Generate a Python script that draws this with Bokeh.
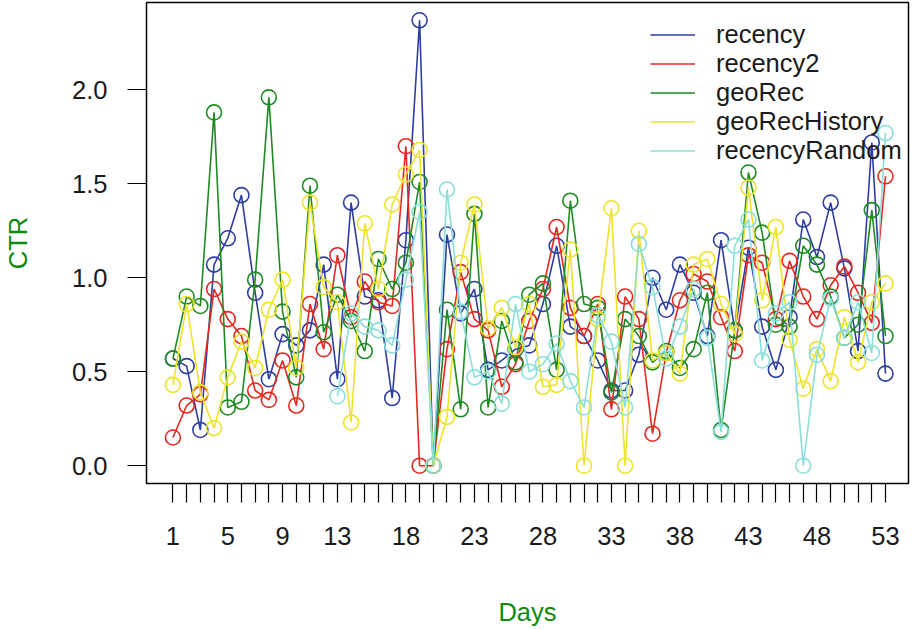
import numpy as np
from bokeh.plotting import figure
from bokeh.models import Range1d, FixedTicker, Legend, LegendItem, NumeralTickFormatter
from bokeh.embed import file_html
from bokeh.resources import INLINE

nan = float("nan")
days = list(range(1, 54))

recency = [0.57, 0.53, 0.19, 1.07, 1.21, 1.44, 0.92, 0.46, 0.70, 0.64,
           0.72, 1.07, 0.46, 1.40, 0.90, 0.88, 0.36, 1.20, 2.37, 0.00,
           1.23, 0.81, 0.94, 0.51, 0.56, 0.62, 0.64, 0.86, 1.17, 0.74,
           0.69, 0.56, 0.40, 0.40, 0.59, 1.00, 0.83, 1.07, 0.92, 0.69,
           1.20, 0.72, 1.16, 0.74, 0.51, 0.79, 1.31, 1.11, 1.40, 1.05,
           0.61, 1.72, 0.49]
recency2 = [0.15, 0.32, 0.38, 0.94, 0.78, 0.69, 0.40, 0.35, 0.56, 0.32,
            0.86, 0.62, 1.12, 0.79, 0.98, 0.87, 0.85, 1.70, 0.00, 0.00,
            0.62, 1.03, 0.78, 0.72, 0.42, 0.54, 0.77, 0.94, 1.27, 0.84,
            0.69, 0.86, 0.30, 0.90, 0.78, 0.17, 0.60, 0.88, 1.02, 0.98,
            0.79, 0.61, 1.12, 1.08, 0.78, 1.09, 0.90, 0.78, 0.96, 1.06,
            0.92, 0.76, 1.54]
geoRec = [0.57, 0.90, 0.85, 1.88, 0.31, 0.34, 0.99, 1.96, 0.82, 0.47,
          1.49, 0.71, 0.91, 0.77, 0.61, 1.10, 0.94, 1.08, 1.51, 0.00,
          0.83, 0.30, 1.34, 0.31, 0.77, 0.55, 0.91, 0.97, 0.51, 1.41,
          0.86, 0.84, 0.39, 0.78, 0.69, 0.55, 0.61, 0.52, 0.62, 0.92,
          0.19, 0.72, 1.56, 1.24, 0.75, 0.74, 1.17, 1.07, 0.90, 0.68,
          0.75, 1.36, 0.69]
geoRecHistory = [0.43, 0.86, 0.39, 0.20, 0.47, 0.66, 0.52, 0.83, 0.99, 0.52,
                 1.40, 0.95, 0.87, 0.23, 1.29, 0.94, 1.39, 1.55, 1.68, 0.00,
                 0.26, 1.08, 1.39, 0.73, 0.84, 0.63, 0.86, 0.42, 0.43, 1.15,
                 0.00, 0.78, 1.37, 0.00, 1.25, 0.56, 0.60, 0.49, 1.07, 1.10,
                 0.86, 0.70, 1.48, 0.88, 1.27, 0.67, 0.41, 0.62, 0.45, 0.79,
                 0.55, 0.87, 0.97]
recencyRandom = [nan] * 12 + [
                 0.37, 0.81, 0.74, 0.72, 0.64, 0.99, 1.35, 0.00,
                 1.47, 0.82, 0.47, 0.50, 0.33, 0.86, 0.50, 0.54, 0.65, 0.45,
                 0.31, 0.80, 0.66, 0.31, 1.18, 0.95, 0.57, 0.74, 0.94, 0.68,
                 0.18, 1.17, 1.31, 0.56, 0.81, 0.87, 0.00, 0.59, 0.89, 0.68,
                 0.87, 0.60, 1.77]

series_names = ["recency", "recency2", "geoRec", "geoRecHistory", "recencyRandom"]
series_values = [recency, recency2, geoRec, geoRecHistory, recencyRandom]
series_colors = ["#2E3E9F", "#E3291F", "#1E8B22", "#EDE42A", "#8ADFDA"]

x_labeled_days = [1, 5, 9, 13, 18, 23, 28, 33, 38, 43, 48, 53]
y_ticks = [0.0, 0.5, 1.0, 1.5, 2.0]

FONT = "Liberation Sans"
AX_GREEN = "#0C8A0C"
FS = "25.5px"

p = figure(width=910, height=638,
           x_range=Range1d(-0.93, 54.68), y_range=Range1d(-0.0948, 2.4648),
           output_backend="svg", toolbar_location=None,
           min_border_left=146, min_border_right=2,
           min_border_top=2, min_border_bottom=155)
p.background_fill_color = "white"
p.border_fill_color = "white"
p.outline_line_color = "black"
p.outline_line_width = 1.5
p.xgrid.visible = False
p.ygrid.visible = False

items = []
for name, vals, col in zip(series_names, series_values, series_colors):
    arr = np.array(vals, dtype=float)
    ln = p.line(days, arr, line_color=col, line_width=1.6)
    p.scatter(days, arr, marker="circle", size=15, fill_color=None,
              line_color=col, line_width=1.6)
    items.append(LegendItem(label=name, renderers=[ln]))

legend = Legend(items=items, location=(504, 318))
legend.border_line_color = None
legend.background_fill_alpha = 0
legend.label_text_font = FONT
legend.label_text_font_size = FS
legend.label_text_color = "#1a1a1a"
legend.glyph_width = 45
legend.glyph_height = 29
legend.label_height = 29
legend.label_standoff = 21
legend.spacing = 0
legend.padding = 4
legend.margin = 0
p.add_layout(legend)

xa = p.xaxis[0]
xa.ticker = FixedTicker(ticks=days)
xa.major_label_overrides = {d: (str(d) if d in x_labeled_days else "") for d in days}
xa.major_tick_out = 19
xa.major_tick_in = 0
xa.minor_tick_line_color = None
xa.axis_line_color = None
xa.major_tick_line_color = "black"
xa.major_tick_line_width = 1.2
xa.major_label_standoff = 24
xa.major_label_text_font = FONT
xa.major_label_text_font_size = FS
xa.major_label_text_color = "#1a1a1a"
xa.axis_label = "Days"
xa.axis_label_text_font = FONT
xa.axis_label_text_font_size = FS
xa.axis_label_text_font_style = "normal"
xa.axis_label_text_color = AX_GREEN
xa.axis_label_standoff = 50

ya = p.yaxis[0]
ya.ticker = FixedTicker(ticks=y_ticks)
ya.formatter = NumeralTickFormatter(format="0.0")
ya.major_tick_out = 19
ya.major_tick_in = 0
ya.minor_tick_line_color = None
ya.axis_line_color = None
ya.major_tick_line_color = "black"
ya.major_tick_line_width = 1.2
ya.major_label_standoff = 20
ya.major_label_orientation = "horizontal"
ya.major_label_text_font = FONT
ya.major_label_text_font_size = FS
ya.major_label_text_color = "#1a1a1a"
ya.axis_label = "CTR"
ya.axis_label_text_font = FONT
ya.axis_label_text_font_size = FS
ya.axis_label_text_font_style = "normal"
ya.axis_label_text_color = AX_GREEN
ya.axis_label_standoff = 37

open("out.html", "w").write(file_html(p, INLINE))
